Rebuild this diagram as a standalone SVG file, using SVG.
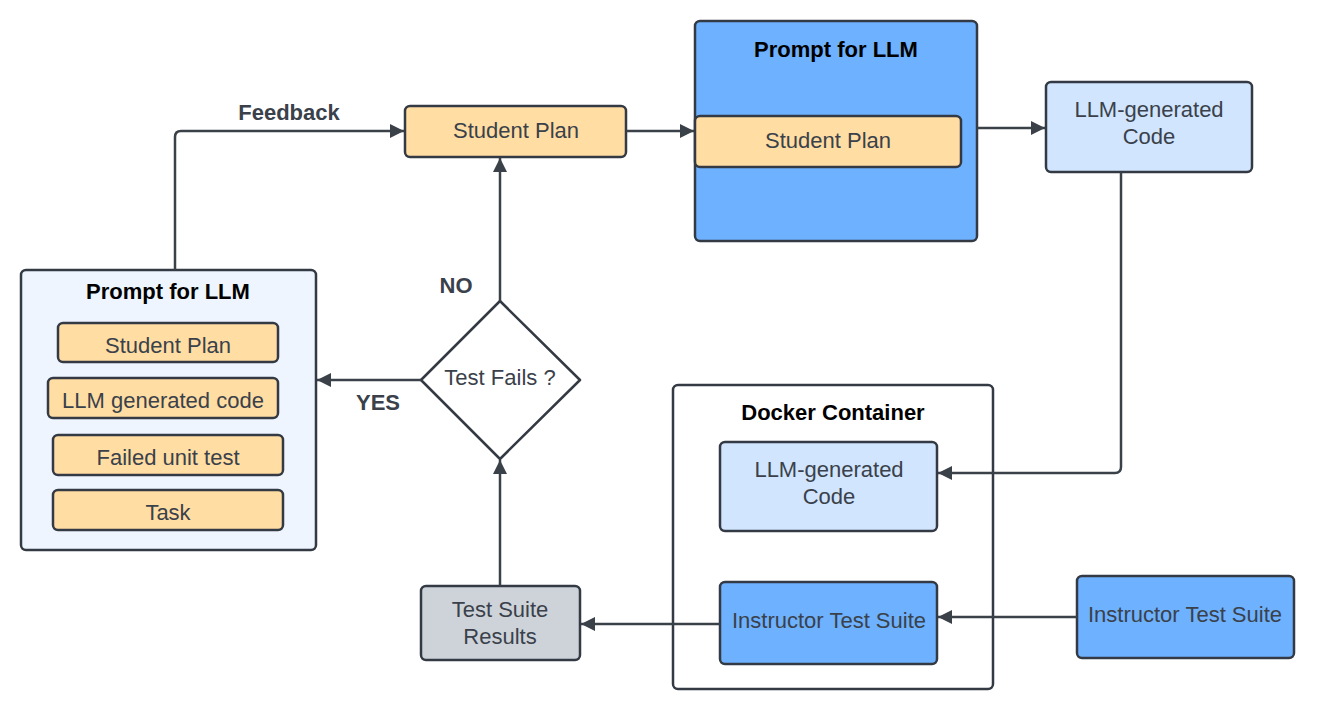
<svg xmlns="http://www.w3.org/2000/svg" width="1317" height="721" viewBox="0 0 1317 721">
<style>
.box{stroke:#343a43;stroke-width:2.5}
.orange{fill:#FFDDA3}
.blue{fill:#6DB1FF}
.lblue{fill:#D1E5FF}
.pale{fill:#EEF5FF}
.gray{fill:#CED3DA}
.white{fill:#FFFFFF}
.t{font-family:"Liberation Sans",Arial,sans-serif;font-size:22px;fill:#3a414a;text-anchor:middle}
.b{font-family:"Liberation Sans",Arial,sans-serif;font-size:22px;font-weight:bold;fill:#000;text-anchor:middle}
.lb{font-family:"Liberation Sans",Arial,sans-serif;font-size:22px;font-weight:bold;fill:#3a414a;text-anchor:middle}
.c{fill:none;stroke:#3b4149;stroke-width:2.5;marker-end:url(#ah)}
</style>
<defs>
<marker id="ah" markerWidth="16" markerHeight="16" refX="14" refY="7" orient="auto" markerUnits="userSpaceOnUse">
<path d="M0,0 L14,7 L0,14 Z" fill="#3b4149"/>
</marker>
</defs>
<rect width="1317" height="721" fill="#fff"/>
<g id="prompt-left">
<rect class="box pale" x="21" y="270" width="295" height="280" rx="5"/>
<text class="b" x="168" y="299">Prompt for LLM</text>
</g>
<g id="pl-student-plan">
<rect class="box orange" x="58" y="323" width="220" height="39" rx="5"/>
<text class="t" x="168" y="353">Student Plan</text>
</g>
<g id="pl-llm-code">
<rect class="box orange" x="48" y="378" width="230" height="40" rx="5"/>
<text class="t" x="163" y="408">LLM generated code</text>
</g>
<g id="pl-failed-test">
<rect class="box orange" x="53" y="435" width="230" height="40" rx="5"/>
<text class="t" x="168" y="465">Failed unit test</text>
</g>
<g id="pl-task">
<rect class="box orange" x="53" y="490" width="230" height="40" rx="5"/>
<text class="t" x="168" y="520">Task</text>
</g>
<g id="student-plan">
<rect class="box orange" x="405" y="106" width="221" height="51" rx="5"/>
<text class="t" x="516" y="138">Student Plan</text>
</g>
<g id="prompt-top">
<rect class="box blue" x="695" y="21" width="282" height="220" rx="5"/>
<text class="b" x="836" y="57">Prompt for LLM</text>
</g>
<g id="pt-student-plan">
<rect class="box orange" x="695" y="116" width="266" height="51" rx="5"/>
<text class="t" x="828" y="148">Student Plan</text>
</g>
<g id="llm-code">
<rect class="box lblue" x="1046" y="82" width="206" height="90" rx="5"/>
<text class="t" x="1149" y="117">LLM-generated</text>
<text class="t" x="1149" y="144">Code</text>
</g>
<g id="decision">
<path class="box white" d="M500,301 L580,380 L500,459 L421,380 Z" stroke-linejoin="round"/>
<text class="t" x="500" y="385">Test Fails ?</text>
</g>
<g id="docker">
<rect class="box white" x="673" y="385" width="320" height="304" rx="5"/>
<text class="b" x="833" y="420">Docker Container</text>
</g>
<g id="docker-llm-code">
<rect class="box lblue" x="720" y="442" width="217" height="89" rx="5"/>
<text class="t" x="829" y="477">LLM-generated</text>
<text class="t" x="829" y="504">Code</text>
</g>
<g id="docker-test-suite">
<rect class="box blue" x="720" y="582" width="217" height="82" rx="5"/>
<text class="t" x="829" y="628">Instructor Test Suite</text>
</g>
<g id="instructor-test-suite">
<rect class="box blue" x="1077" y="576" width="217" height="82" rx="5"/>
<text class="t" x="1185" y="622">Instructor Test Suite</text>
</g>
<g id="test-results">
<rect class="box gray" x="421" y="586" width="159" height="74" rx="5"/>
<text class="t" x="500" y="617">Test Suite</text>
<text class="t" x="500" y="644">Results</text>
</g>
<g id="connectors">
<path class="c" d="M175,270 V137 Q175,131 181,131 H404"/>
<path class="c" d="M626,131 H694"/>
<path class="c" d="M977,128 H1045"/>
<path class="c" d="M1121,172 V467 Q1121,473 1115,473 H938"/>
<path class="c" d="M1077,617 H938"/>
<path class="c" d="M720,624 H581"/>
<path class="c" d="M500,586 V460"/>
<path class="c" d="M500,301 V158"/>
<path class="c" d="M421,380 H317"/>
<text class="lb" x="289" y="120">Feedback</text>
<text class="lb" x="456" y="293">NO</text>
<text class="lb" x="378" y="410">YES</text>
</g>
</svg>
